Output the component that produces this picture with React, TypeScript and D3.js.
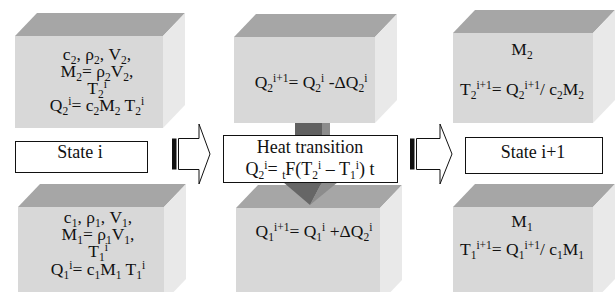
import * as d3 from "d3";
import { useEffect, useRef } from "react";

const WIDTH = 616;
const HEIGHT = 292;

// block texts: "_" = subscript, "^" = superscript, {...} groups
const leftTopLines = ["c_2, ρ_2, V_2,", "M_2= ρ_2V_2,", "T_2^i", "Q_2^i= c_2M_2 T_2^i"];
const leftBottomLines = ["c_1, ρ_1, V_1,", "M_1= ρ_1V_1,", "T_1^i", "Q_1^i= c_1M_1 T_1^i"];
const midTopLines = ["Q_2^{i+1}= Q_2^i -ΔQ_2^i"];
const midBottomLines = ["Q_1^{i+1}= Q_1^i +ΔQ_2^i"];
const rightTopLines = ["M_2", "T_2^{i+1}= Q_2^{i+1}/ c_2M_2"];
const rightBottomLines = ["M_1", "T_1^{i+1}= Q_1^{i+1}/ c_1M_1"];
const stateLabels = ["State i", "State i+1"];
const transitionLines = ["Heat transition", "Q_2^i= _tF(T_2^i – T_1^i) t"];

const FONT = "'Liberation Serif', 'Times New Roman', serif";
const FONT_SIZE = 17.5;
const SMALL_SIZE = 11.5;
const SUB_SHIFT = 3.5;
const SUP_SHIFT = -6.5;
const DEPTH_X = 22;
const DEPTH_Y = 23;

type Segment = { text: string; kind: 0 | 1 | 2 };

const parseLine = (line: string): Segment[] => {
  const out: Segment[] = [];
  let buf = "";
  let i = 0;
  while (i < line.length) {
    const ch = line[i];
    if (ch === "_" || ch === "^") {
      if (buf) out.push({ text: buf, kind: 0 });
      buf = "";
      let piece = "";
      if (line[i + 1] === "{") {
        const end = line.indexOf("}", i + 2);
        piece = line.slice(i + 2, end);
        i = end + 1;
      } else {
        piece = line[i + 1];
        i += 2;
      }
      out.push({ text: piece, kind: ch === "_" ? 1 : 2 });
      continue;
    }
    buf += ch;
    i += 1;
  }
  if (buf) out.push({ text: buf, kind: 0 });
  return out;
};

type Sel = d3.Selection<SVGGElement, unknown, null, undefined>;

// one <text> per block, each line is its own anchored chunk
const drawLines = (g: Sel, lines: string[], cx: number, baselines: number[], size = FONT_SIZE) => {
  const text = g
    .append("text")
    .attr("text-anchor", "middle")
    .attr("font-family", FONT)
    .attr("font-size", size)
    .attr("fill", "#111");
  lines.forEach((line, li) => {
    let current = 0;
    parseLine(line).forEach((seg, si) => {
      const target = seg.kind === 1 ? SUB_SHIFT : seg.kind === 2 ? SUP_SHIFT : 0;
      const span = text.append("tspan").attr("font-size", seg.kind === 0 ? size : SMALL_SIZE).text(seg.text);
      if (si === 0) span.attr("x", cx).attr("y", baselines[li] + target);
      else span.attr("dy", target - current);
      current = target;
    });
  });
};

const drawBlock = (
  g: Sel,
  front: { x: number; y: number; w: number; h: number },
  lines: string[],
  cx: number,
  baselines: number[]
) => {
  const { x, y, w, h } = front;
  g.append("polygon")
    .attr("points", [[x, y], [x + DEPTH_X, y - DEPTH_Y], [x + w + DEPTH_X, y - DEPTH_Y], [x + w, y]].join(" "))
    .attr("fill", "#a6a6a6");
  g.append("polygon")
    .attr("points", [[x + w, y], [x + w + DEPTH_X, y - DEPTH_Y], [x + w + DEPTH_X, y + h - DEPTH_Y], [x + w, y + h]].join(" "))
    .attr("fill", "#e9e9e9");
  g.append("rect").attr("x", x).attr("y", y).attr("width", w).attr("height", h).attr("fill", "#d8d8d8");
  drawLines(g, lines, cx, baselines);
};

const drawBlockArrow = (g: Sel, x0: number, x1: number, tipX: number, cy: number) => {
  const shaft = 15.5;
  const head = 30;
  g.append("rect").attr("x", x0).attr("y", cy - shaft).attr("width", 4.5).attr("height", shaft * 2).attr("fill", "#111");
  const sx = x0 + 6.5;
  g.append("polygon")
    .attr(
      "points",
      [[sx, cy - shaft], [x1, cy - shaft], [x1, cy - head], [tipX, cy], [x1, cy + head], [x1, cy + shaft], [sx, cy + shaft]].join(" ")
    )
    .attr("fill", "white")
    .attr("stroke", "#111")
    .attr("stroke-width", 1);
};

const drawLabelBox = (g: Sel, x: number, y: number, w: number, h: number) => {
  g.append("rect")
    .attr("x", x + 0.5)
    .attr("y", y + 0.5)
    .attr("width", w)
    .attr("height", h)
    .attr("fill", "white")
    .attr("stroke", "#111")
    .attr("stroke-width", 1);
};

const drawDiagram = (svgElement: SVGSVGElement) => {
  const svg = d3.select(svgElement);
  svg.selectAll("*").remove();
  const g = svg.append("g") as unknown as Sel;

  g.append("rect").attr("width", WIDTH).attr("height", HEIGHT).attr("fill", "white");

  drawBlock(g, { x: 15, y: 36, w: 148, h: 92 }, leftTopLines, 97, [60, 77, 94, 111]);
  drawBlock(g, { x: 18, y: 207, w: 146, h: 95 }, leftBottomLines, 98, [223, 240, 257, 275]);
  drawBlock(g, { x: 234, y: 37, w: 141, h: 86 }, midTopLines, 311, [88]);
  drawBlock(g, { x: 236, y: 208, w: 144, h: 95 }, midBottomLines, 314, [237]);
  drawBlock(g, { x: 453, y: 33, w: 140, h: 90 }, rightTopLines, 522, [55, 95]);
  drawBlock(g, { x: 453, y: 207, w: 140, h: 95 }, rightBottomLines, 522, [227, 255]);

  // downward heat-flow arrow, behind the transition box
  g.append("rect").attr("x", 295).attr("y", 123).attr("width", 27).attr("height", 62).attr("fill", "#616161");
  g.append("rect").attr("x", 322).attr("y", 123).attr("width", 8).attr("height", 62).attr("fill", "#8c8c8c");
  g.append("polygon").attr("points", "283,182 322,182 310,205").attr("fill", "#666666");
  g.append("polygon").attr("points", "322,182 338,182 310,205").attr("fill", "#8c8c8c");

  drawLabelBox(g, 15, 141, 132, 31);
  drawLabelBox(g, 223, 135, 174, 47);
  drawLabelBox(g, 465, 137, 137, 36);

  drawLines(g, [stateLabels[0]], 80, [158], 18);
  drawLines(g, [stateLabels[1]], 533, [158], 18);
  drawLines(g, transitionLines, 310, [153, 175], 18);

  drawBlockArrow(g, 172, 199, 210, 154);
  drawBlockArrow(g, 410, 440, 452, 154);
};

const App = () => {
  const svgRef = useRef<SVGSVGElement | null>(null);

  useEffect(() => {
    document.body.style.margin = "0";
    if (svgRef.current) drawDiagram(svgRef.current);
  }, []);

  return <svg ref={svgRef} width={WIDTH} height={HEIGHT} style={{ display: "block" }} />;
};

export default App;
